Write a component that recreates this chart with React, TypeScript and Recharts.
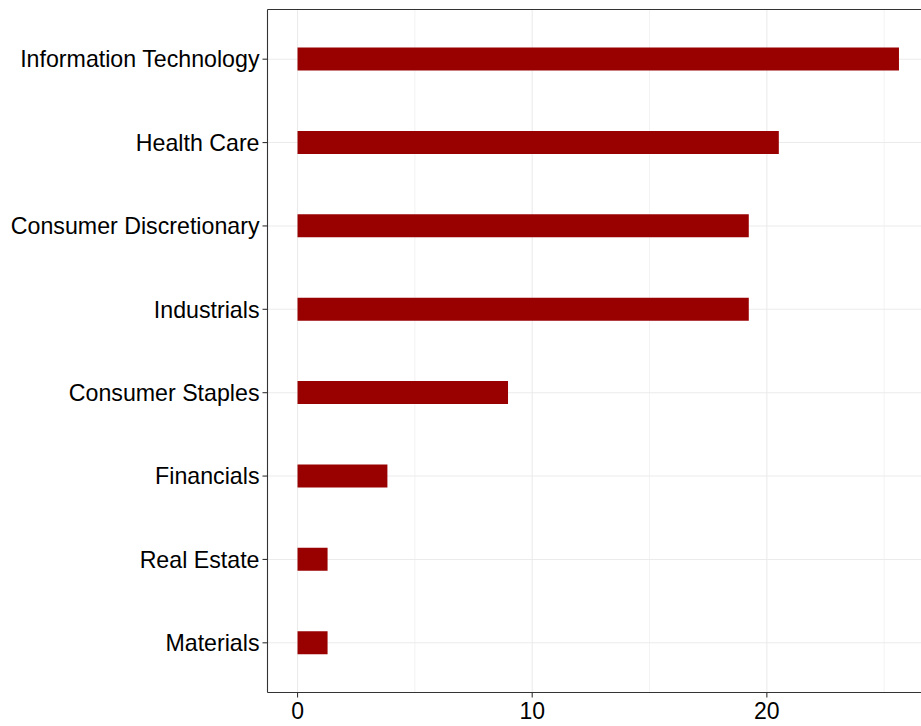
import { BarChart, Bar, XAxis, YAxis, CartesianGrid } from "recharts";

// Sectors, top to bottom
const sectors = [
  "Information Technology",
  "Health Care",
  "Consumer Discretionary",
  "Industrials",
  "Consumer Staples",
  "Financials",
  "Real Estate",
  "Materials",
];

const weights = [25.63, 20.51, 19.23, 19.23, 8.97, 3.83, 1.28, 1.28];

const xTicks = [0, 10, 20];
const xMinor = [5, 15, 25];
const xDomain = [-1.28, 26.91];

const data = sectors.map((sector, i) => ({ sector, value: weights[i] }));

const font = "'Liberation Sans', Arial, Helvetica, sans-serif";
const yTickStyle = { fontFamily: font, fontSize: 23.2, fill: "#000" };
const xTickStyle = { fontFamily: font, fontSize: 23, fill: "#000" };
const border = { stroke: "#333333", strokeWidth: 1.1 };

export default function App() {
  return (
    <div style={{ position: "absolute", left: 0, top: 0, width: 921, height: 726, overflow: "hidden", background: "#fff" }}>
      <BarChart
        width={940}
        height={726}
        data={data}
        layout="vertical"
        margin={{ top: 8.5, right: 11, left: 0, bottom: 0 }}
      >
        <CartesianGrid horizontal={false} verticalValues={xMinor} stroke="#EBEBEB" strokeWidth={0.6} />
        <CartesianGrid vertical={false} horizontal={true} stroke="#EBEBEB" strokeWidth={1.1} />
        <CartesianGrid horizontal={false} verticalValues={xTicks} stroke="#EBEBEB" strokeWidth={1.1} />
        <XAxis
          type="number"
          domain={xDomain}
          ticks={xTicks}
          allowDataOverflow
          height={33.5}
          tickSize={5}
          tickMargin={5}
          tick={xTickStyle}
          axisLine={border}
          tickLine={border}
        />
        <XAxis
          xAxisId="top"
          orientation="top"
          type="number"
          domain={xDomain}
          allowDataOverflow
          height={1}
          tick={false}
          tickLine={false}
          axisLine={border}
        />
        <YAxis
          type="category"
          dataKey="sector"
          width={267.5}
          padding={{ top: 8, bottom: 8 }}
          tickSize={5}
          tickMargin={3}
          tick={yTickStyle}
          interval={0}
          axisLine={border}
          tickLine={border}
        />
        <Bar dataKey="value" fill="#990000" barSize={23} isAnimationActive={false} />
      </BarChart>
    </div>
  );
}
